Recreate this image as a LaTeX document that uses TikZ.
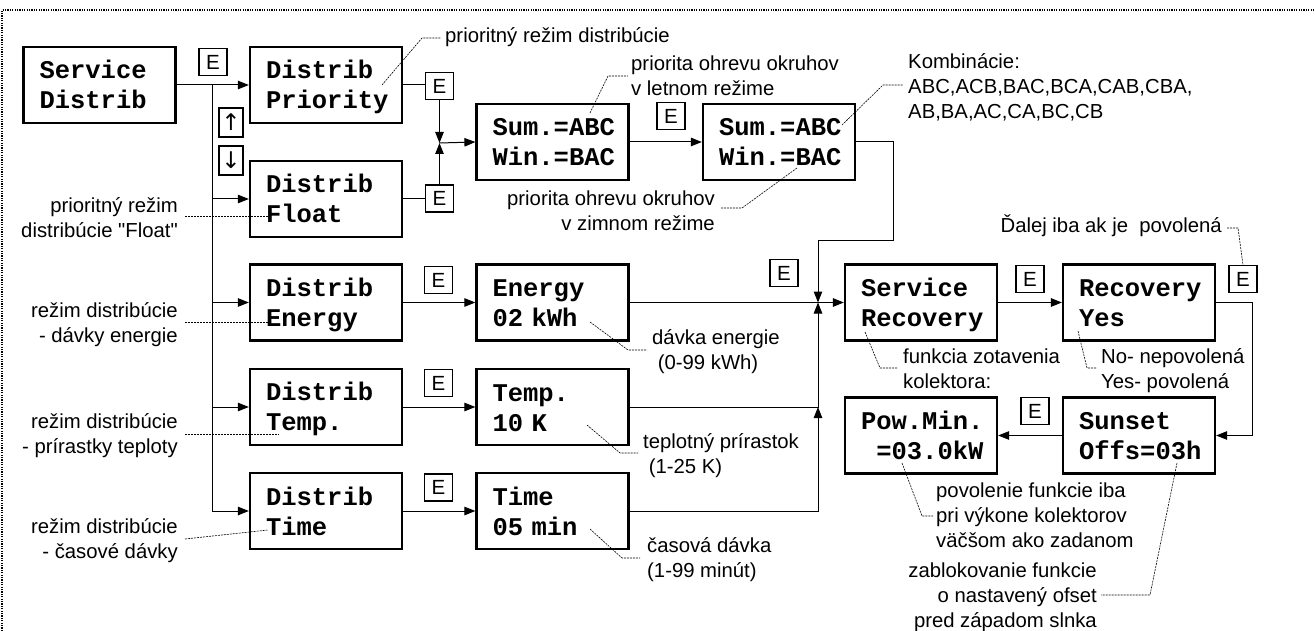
\documentclass[tikz,border=0pt]{standalone}
\usepackage{fontspec}
\setmainfont{Liberation Sans}
\setmonofont{Liberation Mono}
\newfontfamily\djv{DejaVu Sans}
\newfontfamily\rawsf[Ligatures=ResetAll]{Liberation Sans}
\usetikzlibrary{arrows.meta,calc}
\newcommand\two[2]{\rule{0pt}{23pt}#1\\#2\rule[-5pt]{0pt}{5pt}}
\newcommand\Ltab[1]{\begin{tabular}[t]{@{}l@{}}#1\end{tabular}}
\newcommand\Rtab[1]{\begin{tabular}[t]{@{}r@{}}#1\end{tabular}}
\newcommand\sq{{\rawsf"}}
\begin{document}
\begin{tikzpicture}[x=1pt,y=-1pt,
  scr/.style={draw,line width=2.2pt,minimum width=152pt,minimum height=76pt,inner sep=0pt,text width=120pt,align=left,font=\ttfamily\bfseries\fontsize{25.5}{30}\selectfont},
  ekey/.style={draw,line width=1.2pt,minimum width=28pt,minimum height=27pt,inner sep=0pt,font=\fontsize{20.5}{24}\selectfont},
  akey/.style={draw,line width=1.2pt,minimum width=24pt,minimum height=29pt,inner sep=0pt,font=\djv\fontsize{23}{24}\selectfont},
  lbl/.style={inner sep=0pt,font=\fontsize{20.3}{25}\selectfont},
  conn/.style={line width=1pt},
  arr/.style={conn,-{Triangle[length=11pt,width=8.5pt]}},
  lead/.style={line width=0.6pt,dash pattern=on 2pt off 1pt},
  frame/.style={line width=1.4pt,dash pattern=on 1.2pt off 1.2pt},
]
\useasboundingbox (0,0) rectangle (1315,631);
\draw[frame] (2,631) -- (2,10) -- (1315,10);

% screens
\node[scr] (sd)  at (99.5,85)  {\two{Service}{Distrib}};
\node[scr] (pri) at (326,85)   {\two{Distrib}{Priority}};
\node[scr] (flo) at (326,199)  {\two{Distrib}{Float}};
\node[scr] (den) at (326,302.5){\two{Distrib}{Energy}};
\node[scr] (dtp) at (326,407)  {\two{Distrib}{Temp.}};
\node[scr] (dti) at (326,511)  {\two{Distrib}{Time}};
\node[scr] (s1)  at (552.5,142){\two{Sum.=ABC}{Win.=BAC}};
\node[scr] (s2)  at (779,142)  {\two{Sum.=ABC}{Win.=BAC}};
\node[scr] (ven) at (552.5,302.5){\two{Energy}{02 kWh}};
\node[scr] (vtp) at (552.5,407){\two{Temp.}{10 K}};
\node[scr] (vti) at (552.5,511){\two{Time}{05 min}};
\node[scr] (sr)  at (921,302.5){\two{Service}{Recovery}};
\node[scr] (ry)  at (1139,302.5){\two{Recovery}{Yes}};
\node[scr] (sun) at (1139,435.5){\two{Sunset}{Offs=03h}};
\node[scr] (pm)  at (921,435.5){\two{Pow.Min.}{\phantom{P}=03.0kW}};

% keys
\node[ekey] (e0)  at (213,62) {E};
\node[ekey] (e1)  at (439.5,86) {E};
\node[ekey] (e2)  at (439.5,198.5) {E};
\node[ekey] (e3)  at (671,116) {E};
\node[ekey] (e4)  at (438.5,280) {E};
\node[ekey] (e5)  at (438.5,383) {E};
\node[ekey] (e6)  at (438.5,487.5) {E};
\node[ekey] (e7)  at (784,273) {E};
\node[ekey] (e8)  at (1030,279) {E};
\node[ekey] (e9)  at (1243,279) {E};
\node[ekey] (e10) at (1035,411) {E};
\node[akey] (ua) at (231,122.5) {↑};
\node[akey] (da) at (231,160.5) {↓};

% junctions
\coordinate (t0) at (212,85);
\coordinate (j1) at (439.5,143);
\coordinate (k1) at (893,241);
\coordinate (j2) at (818,302.5);
\coordinate (j3) at (818,407);
\coordinate (k2) at (1252,435.5);

% connectors
\draw[arr] (sd.east) -- (pri.west);
\draw[arr] (t0) |- (dti.west);
\draw[arr] (t0 |- flo.west) -- (flo.west);
\draw[arr] (t0 |- den.west) -- (den.west);
\draw[arr] (t0 |- dtp.west) -- (dtp.west);
\draw[conn] (pri.east) -- (pri.east -| e1.west);
\draw[conn] (flo.east) -- (flo.east -| e2.west);
\draw[arr] (e1.south) -- (j1);
\draw[arr] (e2.north) -- (j1);
\draw[arr] (j1) -- (s1.west);
\draw[arr] (s1.east) -- (s2.west);
\draw[arr] (s2.east) -| (k1) -| (j2);
\draw[arr] (den.east) -- (ven.west);
\draw[arr] (dtp.east) -- (vtp.west);
\draw[arr] (dti.east) -- (vti.west);
\draw[arr] (ven.east) -- (sr.west);
\draw[arr] (vtp.east) -| (j2);
\draw[arr] (vti.east) -| (j3);
\draw[arr] (sr.east) -- (ry.west);
\draw[arr] (ry.east) -| (k2) -- (sun.east);
\draw[arr] (sun.west) -- (pm.east);

% labels
\node[lbl,anchor=base west] (l1) at (445,43) {\Ltab{prioritný režim distribúcie}};
\node[lbl,anchor=base west] (l2) at (631,71) {\Ltab{priorita ohrevu okruhov\\v letnom režime}};
\node[lbl,anchor=base east] (l3) at (715,206) {\Rtab{priorita ohrevu okruhov\\v zimnom režime}};
\node[lbl,anchor=base west] (l4) at (908,69) {\Ltab{Kombinácie:\\ABC,ACB,BAC,BCA,CAB,CBA,\\AB,BA,AC,CA,BC,CB}};
\node[lbl,anchor=base east] (l5) at (1222,233) {\Rtab{Ďalej iba ak je\ \ povolená}};
\node[lbl,anchor=base west] (l6) at (903,363) {\Ltab{funkcia zotavenia\\kolektora:}};
\node[lbl,anchor=base west] (l7) at (1101,363) {\Ltab{No- nepovolená\\Yes- povolená}};
\node[lbl,anchor=base west] (l8) at (652,344) {\Ltab{dávka energie\\\ (0-99 kWh)}};
\node[lbl,anchor=base west] (l9) at (643,448) {\Ltab{teplotný prírastok\\\ (1-25 K)}};
\node[lbl,anchor=base west] (l10) at (647,552) {\Ltab{časová dávka\\(1-99 minút)}};
\node[lbl,anchor=base east] (l11) at (178,213) {\Rtab{prioritný režim\\distribúcie \sq Float\sq}};
\node[lbl,anchor=base east] (l12) at (178,317) {\Rtab{režim distribúcie\\- dávky energie}};
\node[lbl,anchor=base east] (l13) at (178,428) {\Rtab{režim distribúcie\\- prírastky teploty}};
\node[lbl,anchor=base east] (l14) at (178,533) {\Rtab{režim distribúcie\\- časové dávky}};
\node[lbl,anchor=base west] (l15) at (936,497) {\Ltab{povolenie funkcie iba\\pri výkone kolektorov\\väčšom ako zadanom}};
\node[lbl,anchor=base east] (l16) at (1097,577) {\Rtab{zablokovanie funkcie\\o nastavený ofset\\pred západom slnka}};

% leaders
\draw[lead] (382,85) -- (422,38) -- (441,38);
\draw[lead] (590,113) -- (608,76) -- (628,76);
\draw[lead] (797,168) -- (742,208) -- (721,208);
\draw[lead] (842,125) -- (883,85) -- (903,85);
\draw[lead] (1227,228) -- (1238,228) -- (e9.north);
\draw[lead] (865,332) -- (880,368) -- (898,368);
\draw[lead] (1078,331) -- (1087,368) -- (1097,368);
\draw[lead] (590,322) -- (628,350) -- (647,350);
\draw[lead] (587,425) -- (620,453) -- (638,453);
\draw[lead] (590,529) -- (622,558) -- (640,558);
\draw[lead] (185,216) -- (268,216);
\draw[lead] (185,322) -- (268,322);
\draw[lead] (185,434) -- (279,434);
\draw[lead] (185,539) -- (268,530);
\draw[lead] (902,463) -- (922,516) -- (933,516);
\draw[lead] (1177,463) -- (1150,595) -- (1101,595);
\end{tikzpicture}
\end{document}
